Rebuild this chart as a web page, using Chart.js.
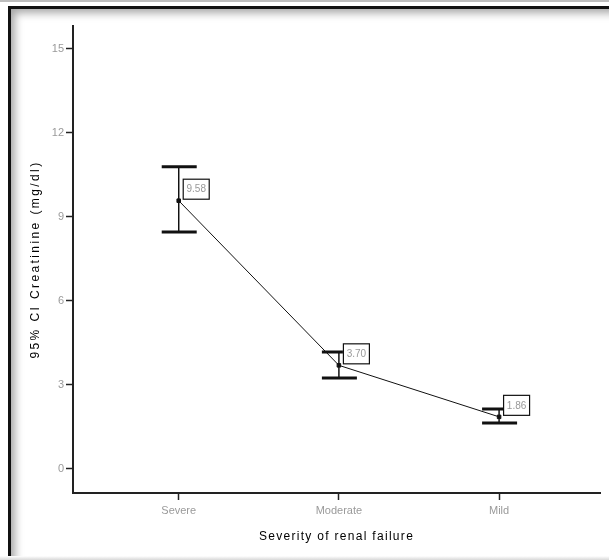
<!DOCTYPE html>
<html>
<head>
<meta charset="utf-8">
<script src="https://cdn.jsdelivr.net/npm/chart.js@4.4.0/dist/chart.umd.min.js"></script>
<style>
  html, body { margin: 0; padding: 0; background: #fff; width: 609px; height: 560px; overflow: hidden; }
  .topline { position: absolute; left: 0; top: 0; width: 609px; height: 2px; background: #bdbdbd; }
  .frame {
    position: absolute; left: 8px; top: 6px; right: 0; bottom: 3px;
    border-top: 3px solid #111; border-left: 3px solid #111;
    box-shadow: inset 7px 7px 9px -3px rgba(0,0,0,0.35);
  }
  .bottomline { position: absolute; left: 0; bottom: 0; width: 609px; height: 4px;
    background: linear-gradient(#fff, #d8d8d8); }
  #wrap { position: absolute; left: 0; top: 0; width: 609px; height: 560px; }
</style>
</head>
<body>
<div class="topline"></div>
<div class="frame"></div>
<div class="bottomline"></div>
<div id="wrap"><canvas id="ciChart" width="609" height="560"></canvas></div>
<script>
// data
const categories = ["Severe", "Moderate", "Mild"];
const means = [9.58, 3.70, 1.86];
const upperCI = [10.79, 4.18, 2.14];
const lowerCI = [8.46, 3.25, 1.64];
const yTicks = [0, 3, 6, 9, 12, 15];

const xTitle = "Severity of renal failure";
const yTitle = "95% CI Creatinine (mg/dl)";

// error bars, value boxes and axis titles
const ciPlugin = {
    id: "ciPlugin",
    afterDatasetsDraw(chart) {
        const ctx = chart.ctx;
        const xs = chart.scales.x;
        const ys = chart.scales.y;
        ctx.save();
        means.forEach((m, i) => {
            const px = xs.getPixelForValue(i + 1);
            const yUp = ys.getPixelForValue(upperCI[i]);
            const yLo = ys.getPixelForValue(lowerCI[i]);
            const yM = ys.getPixelForValue(m);

            // whisker
            ctx.strokeStyle = "#111";
            ctx.lineWidth = 1.5;
            ctx.beginPath();
            ctx.moveTo(px, yUp);
            ctx.lineTo(px, yLo);
            ctx.stroke();
            // caps
            ctx.lineWidth = 3;
            ctx.beginPath();
            ctx.moveTo(px - 17, yUp);
            ctx.lineTo(px + 18, yUp);
            ctx.moveTo(px - 17, yLo);
            ctx.lineTo(px + 18, yLo);
            ctx.stroke();

            // value box
            const bx = px + 4, bw = 26, bh = 20, by = yM - 2 - bh;
            ctx.fillStyle = "#fff";
            ctx.fillRect(bx, by, bw, bh);
            ctx.lineWidth = 1.2;
            ctx.strokeStyle = "#111";
            ctx.strokeRect(bx + 0.5, by + 0.5, bw, bh);
            ctx.fillStyle = "#999";
            ctx.font = "10px 'Liberation Sans', Arial, sans-serif";
            ctx.textAlign = "center";
            ctx.textBaseline = "middle";
            ctx.fillText(m.toFixed(2), bx + bw / 2 + 0.5, by + bh / 2 + 1);
        });

        // axis titles
        ctx.fillStyle = "#000";
        ctx.font = "12px 'Liberation Sans', Arial, sans-serif";
        ctx.textAlign = "center";
        ctx.textBaseline = "middle";
        const area = chart.chartArea;
        ctx.letterSpacing = "1.3px";
        ctx.fillText(xTitle, (area.left + area.right) / 2, 537);
        ctx.letterSpacing = "2.4px";
        ctx.translate(36, (area.top + area.bottom) / 2);
        ctx.rotate(-Math.PI / 2);
        ctx.fillText(yTitle, 0, 0);
        ctx.restore();
    }
};

const chart = new Chart(document.getElementById("ciChart"), {
    type: "line",
    data: {
        datasets: [{
            data: means.map((m, i) => ({ x: i + 1, y: m })),
            borderColor: "#111",
            borderWidth: 1,
            pointStyle: "rect",
            pointRadius: 2.5,
            pointBackgroundColor: "#111",
            pointBorderColor: "#111",
            tension: 0
        }]
    },
    options: {
        responsive: false,
        animation: false,
        layout: { padding: { top: 26, right: 9, left: 0, bottom: 0 } },
        plugins: {
            legend: { display: false },
            tooltip: { enabled: false }
        },
        scales: {
            x: {
                type: "linear",
                min: 0.34,
                max: 3.63,
                afterBuildTicks: (s) => { s.ticks = categories.map((c, i) => ({ value: i + 1 })); },
                afterFit: (s) => { s.height = 67; },
                ticks: {
                    callback: (v) => categories[v - 1] || "",
                    color: "#9a9a9a",
                    font: { size: 11, family: "'Liberation Sans', Arial, sans-serif" },
                    padding: 4,
                    maxRotation: 0
                },
                grid: { drawOnChartArea: false, drawTicks: true, tickLength: 7, color: "#222", tickWidth: 1.5 },
                border: { display: true, color: "#222", width: 2 }
            },
            y: {
                min: -0.86,
                max: 15.82,
                afterBuildTicks: (s) => { s.ticks = yTicks.map(v => ({ value: v })); },
                afterFit: (s) => { s.width = 73; },
                ticks: {
                    color: "#9a9a9a",
                    font: { size: 11, family: "'Liberation Sans', Arial, sans-serif" },
                    padding: 2
                },
                grid: { drawOnChartArea: false, drawTicks: true, tickLength: 7, color: "#222", tickWidth: 1.5 },
                border: { display: true, color: "#222", width: 2 }
            }
        }
    },
    plugins: [ciPlugin]
});
</script>
</body>
</html>
